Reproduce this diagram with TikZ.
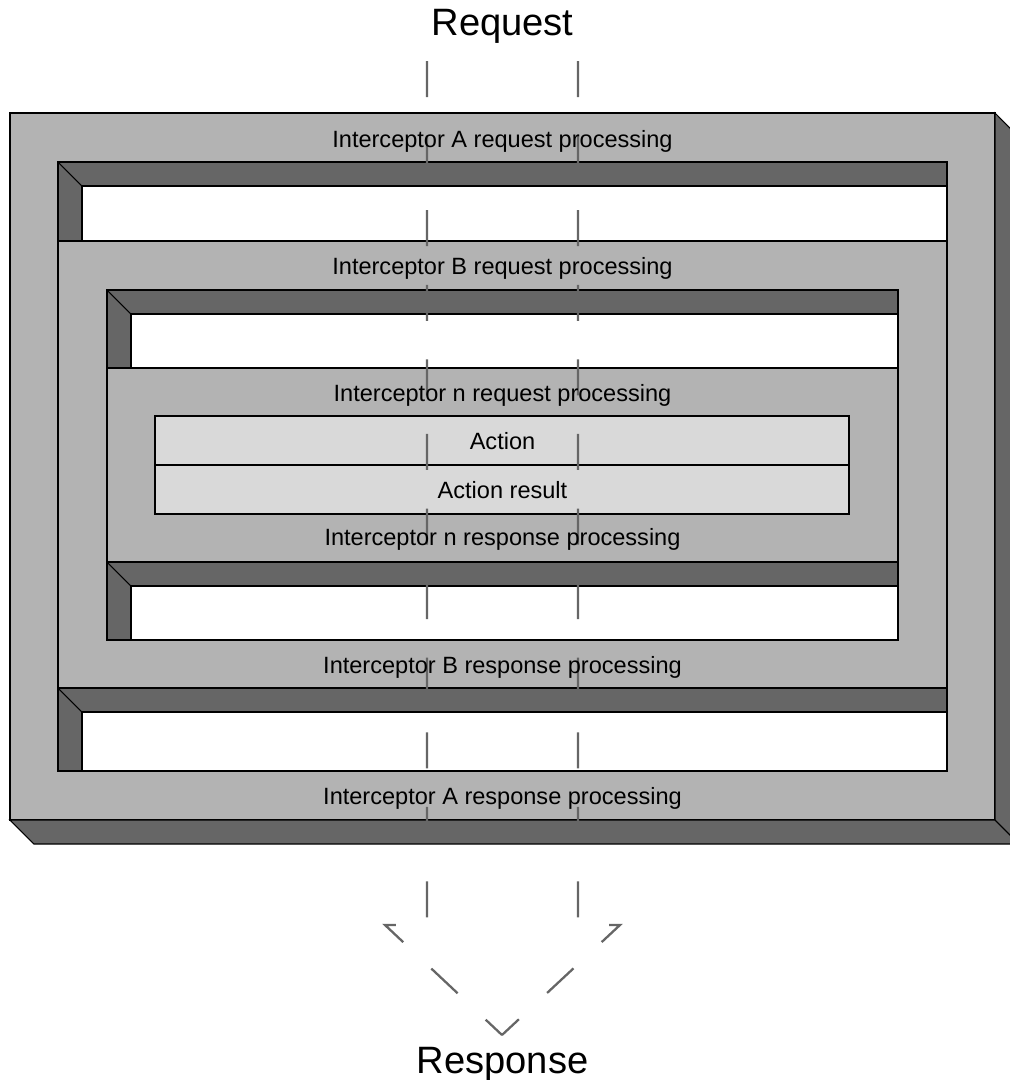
\documentclass[tikz,border=0pt]{standalone}
\usepackage{fontspec}
\setmainfont{Liberation Sans}
\usepackage{tikz}
\usetikzlibrary{positioning}

\definecolor{blockgray}{HTML}{B3B3B3}
\definecolor{recessgray}{HTML}{666666}
\definecolor{actiongray}{HTML}{D9D9D9}

% recessed slot: dark frame, white floor, bevel at the top-left corner
\newcommand{\recess}[4]{%
  \filldraw[face] (#1,#2) rectangle (#3,#4);
  \filldraw[fill=white,draw=black,line width=0.6pt] (#1+24,#2+24) rectangle (#3,#4);
  \draw[line width=0.6pt] (#1,#2) -- (#1+24,#2+24);
}

\begin{document}
\begin{tikzpicture}[x=0.02cm,y=-0.02cm,
  lbl/.style={font=\fontsize{13.4}{15}\selectfont,anchor=base,inner sep=0pt},
  big/.style={font=\fontsize{21.7}{25}\selectfont,anchor=base,inner sep=0pt},
  block/.style={fill=blockgray,draw=black,line width=0.6pt},
  face/.style={fill=recessgray,draw=black,line width=0.6pt},
  actbox/.style={fill=actiongray,draw=black,line width=0.6pt},
  flow/.style={draw=recessgray,line width=1.3pt,dash pattern=on 0.72cm off 0.772cm}]

	\useasboundingbox (0,0) rectangle (1009,1080);

	% Interceptor A
	\filldraw[block] (10,113) rectangle (995,820);
	\filldraw[face] (995,113) -- (1019,137) -- (1019,844) -- (995,820) -- cycle;
	\filldraw[face] (10,820) -- (34,844) -- (1019,844) -- (995,820) -- cycle;
	\recess{58}{162}{947}{241}
	\recess{58}{688}{947}{771}

	% Interceptor B
	\filldraw[block] (58,241) rectangle (947,688);
	\recess{107}{290}{898}{368}
	\recess{107}{562}{898}{640}

	% Interceptor n
	\filldraw[block] (107,368) rectangle (898,562);

	% Action
	\filldraw[actbox] (155,416) rectangle (849,465);
	\filldraw[actbox] (155,465) rectangle (849,514);

	% Flow
	\coordinate (inL) at (427,61);
	\coordinate (inR) at (578,61);
	\coordinate (turnL) at (427,925);
	\coordinate (turnR) at (578,925);
	\coordinate (kinkL) at (385,925);
	\coordinate (kinkR) at (620,925);
	\coordinate (out) at (502,1035);
	\draw[flow] (inL) -- (turnL) -- (kinkL) -- (out);
	\draw[flow] (inR) -- (turnR) -- (kinkR) -- (out);

	% Labels
	\node[big] (req) at (502.5,35) {Request};
	\node[lbl] (reqA) at (502.5,147) {Interceptor A request processing};
	\node[lbl] (reqB) at (502.5,274) {Interceptor B request processing};
	\node[lbl] (reqN) at (502.5,401) {Interceptor n request processing};
	\node[lbl] (act) at (502.5,449) {Action};
	\node[lbl] (res) at (502.5,498) {Action result};
	\node[lbl] (respN) at (502.5,545) {Interceptor n response processing};
	\node[lbl] (respB) at (502.5,673) {Interceptor B response processing};
	\node[lbl] (respA) at (502.5,804) {Interceptor A response processing};
	\node[big] (resp) at (502.5,1073) {Response};

\end{tikzpicture}
\end{document}
